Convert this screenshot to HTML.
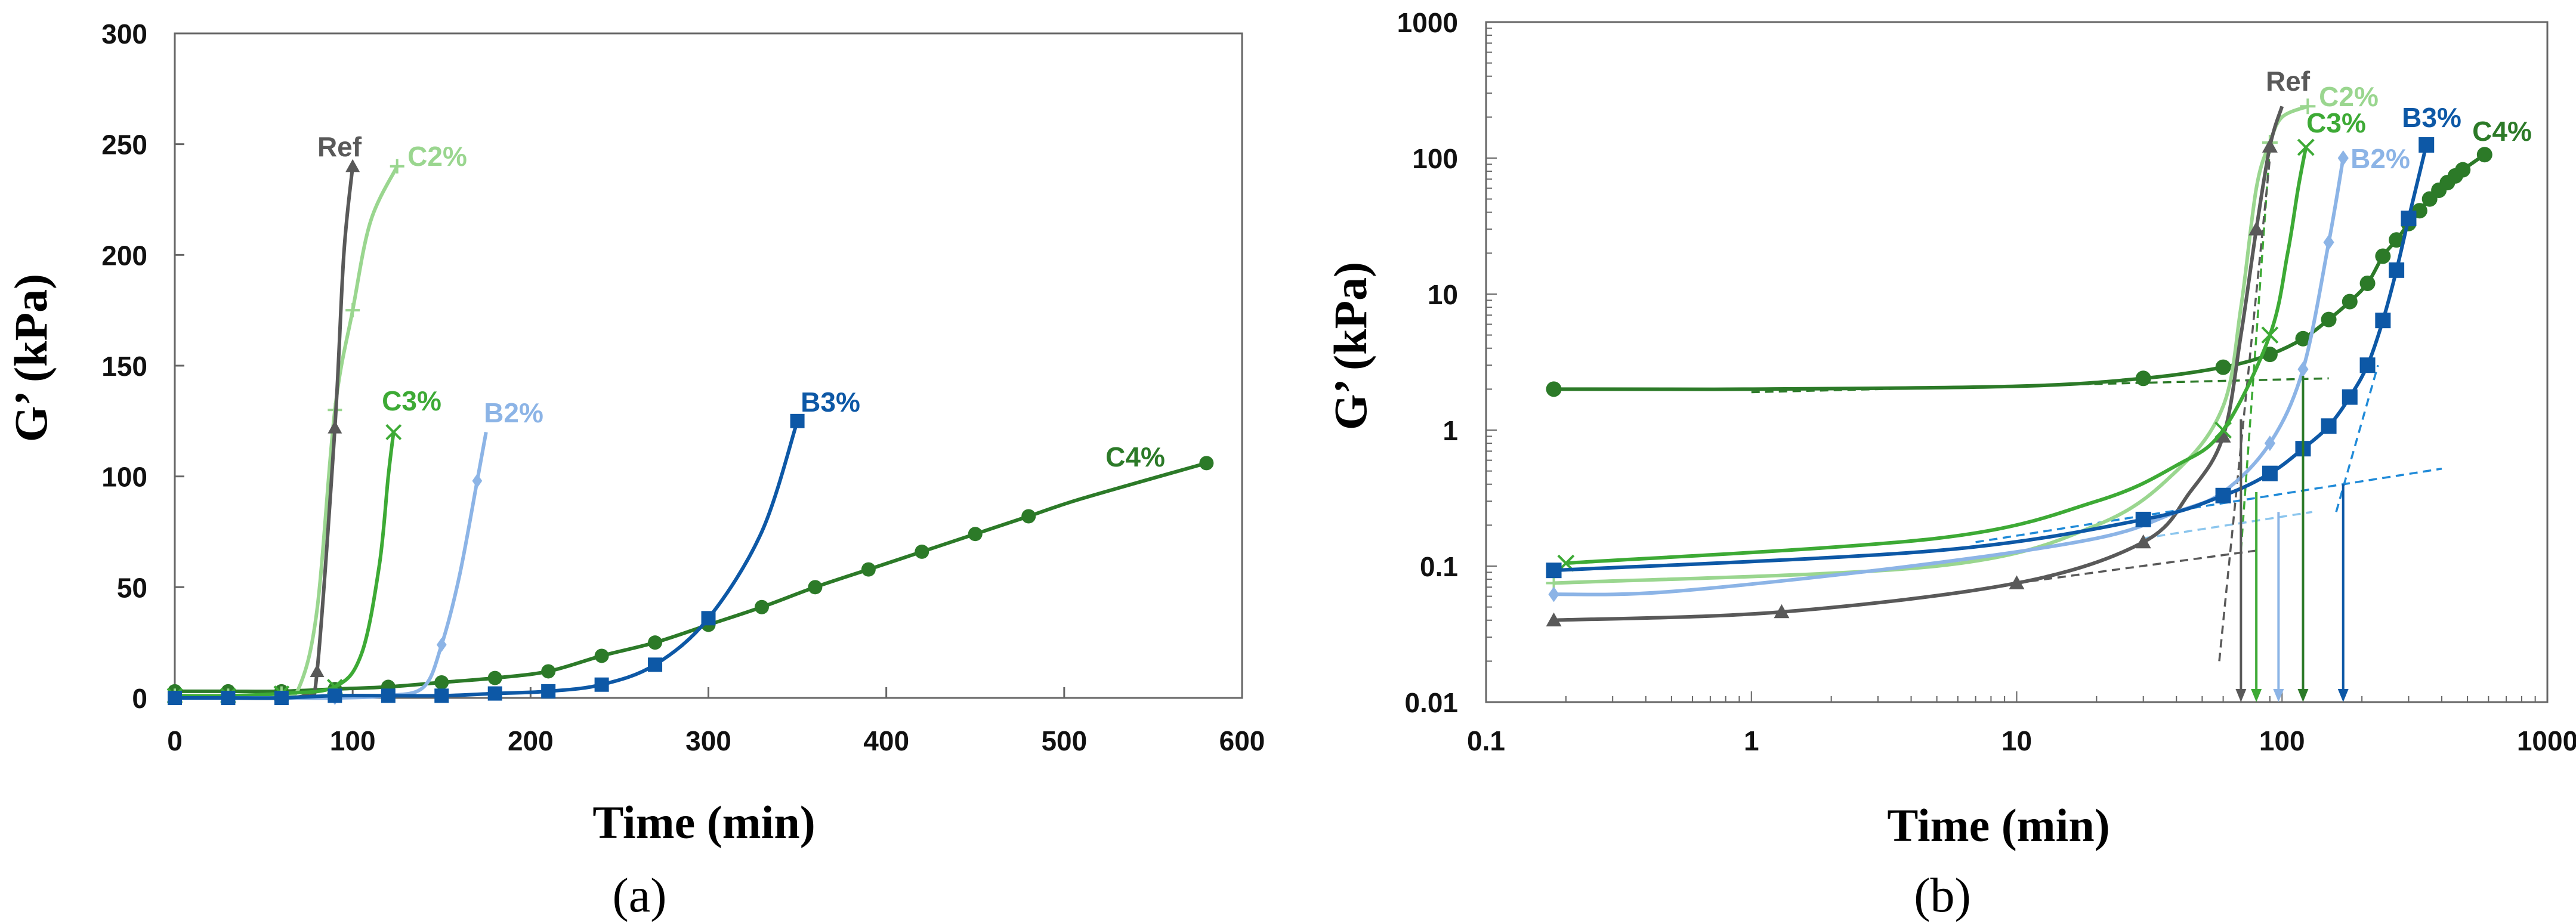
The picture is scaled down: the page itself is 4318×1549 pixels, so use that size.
<!DOCTYPE html>
<html><head><meta charset="utf-8"><style>
html,body{margin:0;padding:0;background:#fff}
svg{display:block}
text{font-family:"Liberation Sans",sans-serif}
.tk{font-size:46px;font-weight:bold;fill:#111}
.ttl{font-family:"Liberation Serif",serif;font-size:78px;font-weight:bold;fill:#000}
.cap{font-family:"Liberation Serif",serif;font-size:82px;fill:#000}
.lb{font-size:46px;font-weight:bold}
</style></head><body>
<svg id="fig" width="4318" height="1549" viewBox="0 0 4318 1549" xmlns="http://www.w3.org/2000/svg">
<rect width="4318" height="1549" fill="#fff"/>
<g id="ga"></g>
<g id="gb"></g>
<text class="ttl" x="1180" y="1405" text-anchor="middle">Time (min)</text>
<text class="ttl" transform="translate(78,600) rotate(-90)" text-anchor="middle">G’ (kPa)</text>
<text class="cap" x="1072" y="1528" text-anchor="middle">(a)</text>
<text class="ttl" x="3350" y="1410" text-anchor="middle">Time (min)</text>
<text class="ttl" transform="translate(2290,580) rotate(-90)" text-anchor="middle">G’ (kPa)</text>
<text class="cap" x="3256" y="1528" text-anchor="middle">(b)</text>
</svg>
<script>
const seriesNames=["Ref","C2%","C3%","B2%","B3%","C4%"];
const seriesColors=["#595959","#9ad68f","#3daa35","#8cb4e6","#0d58a6","#2c7a28"];
// chart (a)
const aTicksX=[0,100,200,300,400,500,600];
const aTicksY=[0,50,100,150,200,250,300];
const aRefT=[0,30,60,75,80,90,95,100];
const aRefV=[0,0,0,2,12,122,200,240];
const aC2T=[0,30,60,70,80,90,100,110,125];
const aC2V=[1,1,2,5,40,130,175,215,240];
const aC3T=[0,30,60,90,105,115,120,123];
const aC3V=[1,1,2,5,20,60,100,120];
const aB2T=[0,30,60,90,120,140,150,160,170,175];
const aB2V=[0,0,0,0,1,5,24,55,98,120];
const aB3T=[0,30,60,90,120,150,180,210,240,270,300,330,350];
const aB3V=[0,0,0,1,1,1,2,3,6,15,36,75,125];
const aC4T=[0,30,60,90,120,150,180,210,240,270,300,330,360,390,420,450,480,510,580];
const aC4V=[3,3,3,4,5,7,9,12,19,25,33,41,50,58,66,74,82,90,106];
// chart (b)
const bTicksX=[0.1,1,10,100,1000];
const bTicksY=[0.01,0.1,1,10,100,1000];
const bRefT=[0.18,1.3,10,30,45,60,70,80,90,100];
const bRefV=[0.04,0.046,0.075,0.15,0.35,0.9,5,30,122,240];
const bC2T=[0.18,5,20,40,60,70,80,90,100,125];
const bC2V=[0.075,0.1,0.2,0.5,1.5,8,60,130,200,240];
const bC3T=[0.2,5,20,40,60,90,105,115,123];
const bC3V=[0.105,0.16,0.3,0.55,1,5,20,60,120];
const bB2T=[0.18,0.5,4,20,40,60,90,120,150,170];
const bB2V=[0.062,0.065,0.1,0.16,0.25,0.35,0.8,2.8,24,100];
const bB3T=[0.18,5,30,60,90,120,150,180,210,240,270,300,350];
const bB3V=[0.093,0.13,0.22,0.33,0.48,0.73,1.07,1.75,3,6.4,15,36,125];
const bC4T=[0.18,1,10,30,60,90,120,150,180,210,240,270,300,330,360,390,420,450,480,580];
const bC4V=[2,2,2.1,2.4,2.9,3.6,4.7,6.5,8.8,12,19,25,33,41,50,58,66,74,82,106];
const bArrowT=[70,80,97,120,170];
const bArrowV=[1.2,0.35,0.25,2.5,0.4];
const bArrowC=["#595959","#3daa35","#8cb4e6","#2c7a28","#0d58a6"];
const bDashT1=[10,70,1,7,30,160,58];
const bDashV1=[0.075,0.13,1.9,0.15,0.16,0.25,0.02];
const bDashT2=[80,90,150,400,130,230,90];
const bDashV2=[0.13,120,2.4,0.52,0.25,3,100];
const bDashC=["#595959","#3daa35","#2c7a28","#1f8ad8","#8cc6ee","#1f8ad8","#595959"];
// which points carry a marker
const aMarkRef=[0,30,60,80,90,100];
const aMarkC2=[0,30,60,90,100,125];
const aMarkC3=[0,30,60,90,123];
const aMarkB2=[0,30,60,90,120,150,170];
const aMarkB3=[0,30,60,90,120,150,180,210,240,270,300,350];
const aMarkC4=[0,30,60,90,120,150,180,210,240,270,300,330,360,390,420,450,480,580];
const bMarkRef=[0.18,1.3,10,30,60,80,90];
const bMarkC2=[0.18,90,125];
const bMarkC3=[0.2,60,90,123];
const bMarkB2=[0.18,90,120,150,170];
const bMarkB3=[0.18,30,60,90,120,150,180,210,240,270,300,350];
const bMarkC4=[0.18,30,60,90,120,150,180,210,240,270,300,330,360,390,420,450,480,580];

const NS="http://www.w3.org/2000/svg";
function mk(p,tag,at){const e=document.createElementNS(NS,tag);for(const k in at)e.setAttribute(k,at[k]);p.appendChild(e);return e;}
function smooth(pts){let d="M"+pts[0][0]+","+pts[0][1];for(let i=0;i<pts.length-1;i++){const p0=pts[i-1]||pts[i],p1=pts[i],p2=pts[i+1],p3=pts[i+2]||p2;const c1=[p1[0]+(p2[0]-p0[0])/6,p1[1]+(p2[1]-p0[1])/6],c2=[p2[0]-(p3[0]-p1[0])/6,p2[1]-(p3[1]-p1[1])/6];d+=" C"+c1[0]+","+c1[1]+" "+c2[0]+","+c2[1]+" "+p2[0]+","+p2[1];}return d;}
function marker(g,kind,x,y,c,s){let e;
 if(kind==="tri")e=mk(g,"polygon",{points:`${x},${y-s} ${x-s},${y+s*0.8} ${x+s},${y+s*0.8}`,fill:c});
 else if(kind==="sq")e=mk(g,"rect",{x:x-s,y:y-s,width:2*s,height:2*s,fill:c});
 else if(kind==="dia")e=mk(g,"polygon",{points:`${x},${y-s} ${x+s*0.7},${y} ${x},${y+s} ${x-s*0.7},${y}`,fill:c});
 else if(kind==="circ")e=mk(g,"circle",{cx:x,cy:y,r:s,fill:c});
 else if(kind==="plus")e=mk(g,"path",{d:`M${x-s},${y}h${2*s}M${x},${y-s}v${2*s}`,stroke:c,"stroke-width":4});
 else e=mk(g,"path",{d:`M${x-s},${y-s}L${x+s},${y+s}M${x+s},${y-s}L${x-s},${y+s}`,stroke:c,"stroke-width":4});
 
 }
const kinds=["tri","plus","cross","dia","sq","circ"];

// ----- chart A
const ga=document.getElementById("ga");
const AX0=293,AX1=2082,AY0=1170,AY1=56;
const ax=t=>AX0+(t-0)/600*(AX1-AX0), ay=v=>AY0-v/300*(AY0-AY1);
let fr=mk(ga,"rect",{x:AX0,y:AY1,width:AX1-AX0,height:AY0-AY1,fill:"none",stroke:"#666","stroke-width":3});


aTicksX.forEach(t=>{const x=ax(t);mk(ga,"line",{x1:x,y1:AY0,x2:x,y2:AY0-18,stroke:"#666","stroke-width":3});
 const e=mk(ga,"text",{x:x,y:1258,class:"tk","text-anchor":"middle"});e.textContent=t;
 
 });
aTicksY.forEach(v=>{const y=ay(v);mk(ga,"line",{x1:AX0,y1:y,x2:AX0+16,y2:y,stroke:"#666","stroke-width":3});
 const e=mk(ga,"text",{x:247,y:y+17,class:"tk","text-anchor":"end"});e.textContent=v;
 
 });
const aT=[aRefT,aC2T,aC3T,aB2T,aB3T,aC4T],aV=[aRefV,aC2V,aC3V,aB2V,aB3V,aC4V];
const aM=[aMarkRef,aMarkC2,aMarkC3,aMarkB2,aMarkB3,aMarkC4];
const aOrder=[5,1,0,2,3,4];
aOrder.forEach(i=>{const pts=aT[i].map((t,j)=>[ax(t),ay(aV[i][j])]);
 const p=mk(ga,"path",{d:smooth(pts),fill:"none",stroke:seriesColors[i],"stroke-width":6});
 
 
 aT[i].forEach((t,j)=>{if(aM[i].includes(t))marker(ga,kinds[i],ax(t),ay(aV[i][j]),seriesColors[i],12);});});
const aLblX=[569,733,690,861,1392,1903],aLblY=[262,278,688,708,690,782];
seriesNames.forEach((n,i)=>{const e=mk(ga,"text",{x:aLblX[i],y:aLblY[i],class:"lb",fill:seriesColors[i],"text-anchor":"middle"});e.textContent=n;
 
 });

// ----- chart B
const gb=document.getElementById("gb");
const BX0=2491,BX1=4270,BY0=1177,BY1=37;
const bx=t=>BX0+(Math.log10(t)+1)/4*(BX1-BX0), by=v=>BY0-(Math.log10(v)+2)/5*(BY0-BY1);
fr=mk(gb,"rect",{x:BX0,y:BY1,width:BX1-BX0,height:BY0-BY1,fill:"none",stroke:"#666","stroke-width":3});


for(let d=-1;d<3;d++)for(let m=1;m<10;m++){const x=bx(m*Math.pow(10,d));mk(gb,"line",{x1:x,y1:BY0,x2:x,y2:BY0-(m===1?18:10),stroke:"#666","stroke-width":2});}
for(let d=-2;d<3;d++)for(let m=1;m<10;m++){const y=by(m*Math.pow(10,d));mk(gb,"line",{x1:BX0,y1:y,x2:BX0+(m===1?18:10),y2:y,stroke:"#666","stroke-width":2});}
bTicksX.forEach(t=>{const e=mk(gb,"text",{x:bx(t),y:1258,class:"tk","text-anchor":"middle"});e.textContent=t;
 
 });
bTicksY.forEach(v=>{const e=mk(gb,"text",{x:2444,y:by(v)+17,class:"tk","text-anchor":"end"});e.textContent=v;
 
 });
bDashT1.forEach((t,i)=>{const l=mk(gb,"line",{x1:bx(t),y1:by(bDashV1[i]),x2:bx(bDashT2[i]),y2:by(bDashV2[i]),stroke:bDashC[i],"stroke-width":3.5,"stroke-dasharray":"14 9"});
 
 });
const bT=[bRefT,bC2T,bC3T,bB2T,bB3T,bC4T],bV=[bRefV,bC2V,bC3V,bB2V,bB3V,bC4V];
const bM=[bMarkRef,bMarkC2,bMarkC3,bMarkB2,bMarkB3,bMarkC4];
aOrder.forEach(i=>{const pts=bT[i].map((t,j)=>[bx(t),by(bV[i][j])]);
 const p=mk(gb,"path",{d:smooth(pts),fill:"none",stroke:seriesColors[i],"stroke-width":6});
 
 
 bT[i].forEach((t,j)=>{if(bM[i].includes(t))marker(gb,kinds[i],bx(t),by(bV[i][j]),seriesColors[i],13);});});
bArrowT.forEach((t,i)=>{const x=bx(t),y=by(bArrowV[i]);
 const l=mk(gb,"path",{d:`M${x},${y}V${BY0-14}`,stroke:bArrowC[i],"stroke-width":4,fill:"none"});
 
 
 mk(gb,"polygon",{points:`${x-9},${BY0-22} ${x+9},${BY0-22} ${x},${BY0}`,fill:bArrowC[i]});});
const bLblX=[3835,3937,3916,3990,4076,4194],bLblY=[152,178,222,282,213,236];
seriesNames.forEach((n,i)=>{const e=mk(gb,"text",{x:bLblX[i],y:bLblY[i],class:"lb",fill:seriesColors[i],"text-anchor":"middle"});e.textContent=n;
 
 });
</script>
</body></html>
